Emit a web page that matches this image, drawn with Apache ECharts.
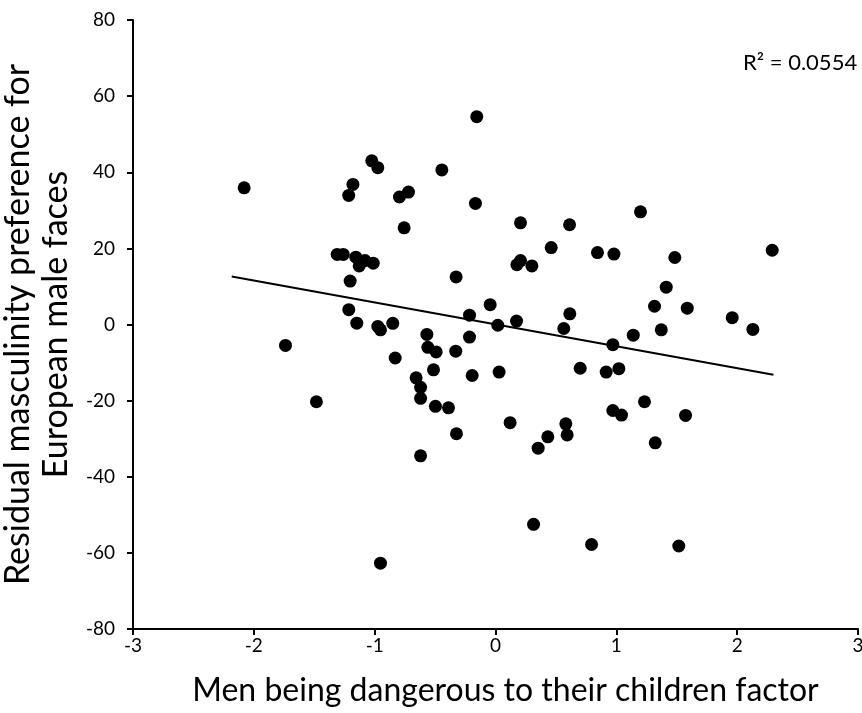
<!DOCTYPE html>
<html>
<head>
<meta charset="utf-8">
<script src="https://cdn.jsdelivr.net/npm/echarts@6/dist/echarts.min.js"></script>
<style>
html,body{margin:0;padding:0;background:#fff;}
#chart{width:862px;height:713px;}
</style>
</head>
<body>
<div id="chart"></div>
<script>
// Factor scores (x) and residual masculinity preference (y)
const xValues = [-2.08,-1.215,-1.18,-1.024,-0.974,-0.795,-0.72,-0.756,-0.444,-0.155,-0.166,-1.31,-1.26,-1.156,-1.128,-1.08,-1.012,-1.203,-0.326,-1.214,-1.148,-0.974,-0.952,-0.85,-0.215,-1.738,-1.482,-0.568,-0.56,-0.491,-0.83,-0.329,-0.215,-0.513,-0.657,-0.62,-0.62,-0.497,-0.389,-0.193,-0.323,-0.62,-0.952,0.207,0.613,0.461,1.2,0.177,0.207,0.301,0.844,0.98,1.484,2.29,1.413,1.316,1.587,-0.044,0.615,1.959,0.174,0.019,0.565,1.14,1.372,2.13,0.971,0.03,0.701,0.916,1.021,1.233,0.971,1.043,1.573,0.121,0.582,0.593,0.433,0.353,1.322,0.315,0.795,1.517];
const yValues = [35.9,33.9,36.8,43.0,41.2,33.5,34.8,25.4,40.6,54.6,31.8,18.4,18.4,17.7,15.4,16.8,16.1,11.4,12.5,3.9,0.35,-0.5,-1.4,0.3,2.45,-5.5,-20.3,-2.6,-6.0,-7.2,-8.8,-7.0,-3.3,-11.9,-14.0,-16.5,-19.4,-21.5,-21.9,-13.4,-28.7,-34.5,-62.7,26.7,26.2,20.2,29.6,15.7,16.8,15.4,18.9,18.5,17.6,19.5,9.8,4.8,4.3,5.2,2.8,1.8,0.9,-0.2,-1.05,-2.8,-1.4,-1.3,-5.3,-12.5,-11.5,-12.5,-11.6,-20.3,-22.6,-23.8,-23.9,-25.8,-26.1,-29.0,-29.5,-32.5,-31.1,-52.5,-57.8,-58.2];
// Linear trend line endpoints
const trendX = [-2.183, 2.30];
const trendY = [12.6, -13.2];
const r2Label = 'R² = 0.0554';
const xTitle = 'Men being dangerous to their children factor';
const yTitle = 'Residual masculinity preference for\nEuropean male faces';

const FONT = 'Lato';
const chart = echarts.init(document.getElementById('chart'), null, {renderer:'canvas'});
const points = xValues.map((x,i)=>[x,yValues[i]]);
const trend = trendX.map((x,i)=>[x,trendY[i]]);

chart.setOption({
  animation:false,
  backgroundColor:'#fff',
  grid:{left:133,right:4,top:20,bottom:84,containLabel:false,outerBoundsMode:'none'},
  xAxis:{
    type:'value',min:-3,max:3,interval:1,
    axisLine:{onZero:false,lineStyle:{color:'#000',width:2}},
    axisTick:{show:true,length:6,lineStyle:{color:'#000',width:2}},
    splitLine:{show:false},
    axisLabel:{color:'#000',fontFamily:FONT,fontSize:19,margin:7},
    name:xTitle,nameLocation:'middle',nameGap:46,
    nameTextStyle:{color:'#000',fontFamily:FONT,fontSize:32,padding:[0,0,0,20]}
  },
  yAxis:{
    type:'value',min:-80,max:80,interval:20,
    axisLine:{onZero:false,lineStyle:{color:'#000',width:2}},
    axisTick:{show:true,length:6,lineStyle:{color:'#000',width:2}},
    splitLine:{show:false},
    axisLabel:{color:'#000',fontFamily:FONT,fontSize:19,margin:18},
    name:yTitle,nameLocation:'middle',nameGap:47,nameRotate:90,
    nameTextStyle:{color:'#000',fontFamily:FONT,fontSize:34,lineHeight:38,align:'center'}
  },
  graphic:[{
    type:'text',left:743,top:52,
    style:{text:r2Label,fill:'#000',font:'22px '+FONT}
  }],
  series:[
    {type:'scatter',data:points,symbol:'circle',symbolSize:13,
     itemStyle:{color:'#000',opacity:1},z:3},
    {type:'line',data:trend,symbol:'none',
     lineStyle:{color:'#000',width:2},z:2}
  ]
});
</script>
</body>
</html>
